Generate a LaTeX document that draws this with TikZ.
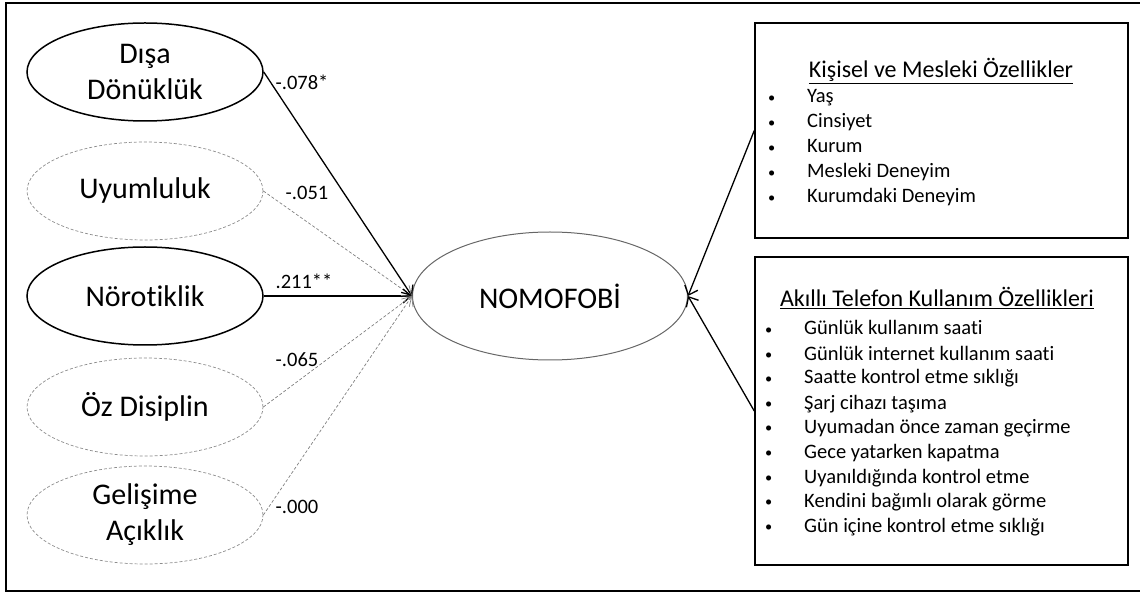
\documentclass[tikz,border=0pt]{standalone}
\usepackage{fontspec}
\setmainfont{Carlito}[Ligatures=CommonOff]
\usetikzlibrary{shapes.geometric,arrows.meta}

\tikzset{
  trait/.style={draw, ellipse, line width=1.5pt, minimum width=236pt, minimum height=98pt, inner sep=0pt, align=center, font=\fontsize{30}{36}\selectfont},
  weaktrait/.style={trait, draw=gray!90, line width=0.7pt, dash pattern=on 3pt off 2pt},
  listbox/.style={draw, line width=1.5pt, minimum width=373pt, inner sep=0pt},
  boxtitle/.style={anchor=base, inner sep=0pt, font=\fontsize{24}{28}\selectfont},
  item/.style={anchor=base west, inner sep=0pt, font=\fontsize{20.5}{24}\selectfont},
  coef/.style={inner sep=0pt, font=\fontsize{20.5}{24}\selectfont},
  strong/.style={draw, line width=1.3pt, -{Straight Barb[length=8pt,width=14pt]}},
  weak/.style={draw=gray, line width=0.7pt, dash pattern=on 3pt off 2pt, -{Straight Barb[length=8pt,width=14pt]}},
}
\newcommand{\itm}[1]{\makebox[39pt][l]{\raisebox{0.5pt}{\scalebox{0.7}{\textbullet}}}#1}

\begin{document}
\begin{tikzpicture}[x=1pt, y=-1pt]
\useasboundingbox (0,0) rectangle (1140,593);
% frame
\draw[line width=2pt] (1142,3) -- (6,3) -- (6,591) -- (1142,591);

\node[trait] (dis) at (145,72) {Dışa\\Dönüklük};
\node[weaktrait] (uyum) at (145,191) {Uyumluluk};
\node[trait] (noro) at (145,296) {Nörotiklik};
\node[weaktrait] (oz) at (145,407) {Öz Disiplin};
\node[weaktrait] (gelisim) at (145,515) {Gelişime\\Açıklık};

\node[draw=gray!80!black, line width=1pt, ellipse, minimum width=275pt, minimum height=128pt, inner sep=0pt, font=\fontsize{30}{36}\selectfont] (nomo) at (550,296) {NOMOFOBİ};

\node[listbox, minimum height=215pt] (kisisel) at (941.5,130.5) {};
\node[listbox, minimum height=308pt] (akilli) at (941.5,411) {};

% box 1
\node[boxtitle] (t1) at (941,78) {\underline{Kişisel ve Mesleki Özellikler}};
\node[item] (k1) at (768,103) {\itm{Yaş}};
\node[item] (k2) at (768,128) {\itm{Cinsiyet}};
\node[item] (k3) at (768,153) {\itm{Kurum}};
\node[item] (k4) at (768,178) {\itm{Mesleki Deneyim}};
\node[item] (k5) at (768,203) {\itm{Kurumdaki Deneyim}};

% box 2
\node[boxtitle] (t2) at (937,307) {\underline{Akıllı Telefon Kullanım Özellikleri}};
\node[item] (a1) at (765,335) {\itm{Günlük kullanım saati}};
\node[item] (a2) at (765,360) {\itm{Günlük internet kullanım saati}};
\node[item] (a3) at (765,384) {\itm{Saatte kontrol etme sıklığı}};
\node[item] (a4) at (765,409) {\itm{Şarj cihazı taşıma}};
\node[item] (a5) at (765,433) {\itm{Uyumadan önce zaman geçirme}};
\node[item] (a6) at (765,458) {\itm{Gece yatarken kapatma}};
\node[item] (a7) at (765,483) {\itm{Uyanıldığında kontrol etme}};
\node[item] (a8) at (765,507) {\itm{Kendini bağımlı olarak görme}};
\node[item] (a9) at (765,532) {\itm{Gün içine kontrol etme sıklığı}};

% paths
\path[strong] (dis.east) -- (nomo.west);
\path[weak] (uyum.east) -- (nomo.west);
\path[strong] (noro.east) -- (nomo.west);
\path[weak] (oz.east) -- (nomo.west);
\path[weak] (gelisim.east) -- (nomo.west);
\path[draw, line width=1.3pt, -{Straight Barb[length=8pt,width=14pt]}] (kisisel.west) -- (nomo.east);
\path[draw, line width=1.3pt, -{Straight Barb[length=8pt,width=14pt]}] (akilli.west) -- (nomo.east);

\node[coef] (c1) at (302,82) {-.078*};
\node[coef] (c2) at (307,193) {-.051};
\node[coef] (c3) at (304,281) {.211**};
\node[coef] (c4) at (297,360) {-.065};
\node[coef] (c5) at (297,507) {-.000};
\end{tikzpicture}
\end{document}
